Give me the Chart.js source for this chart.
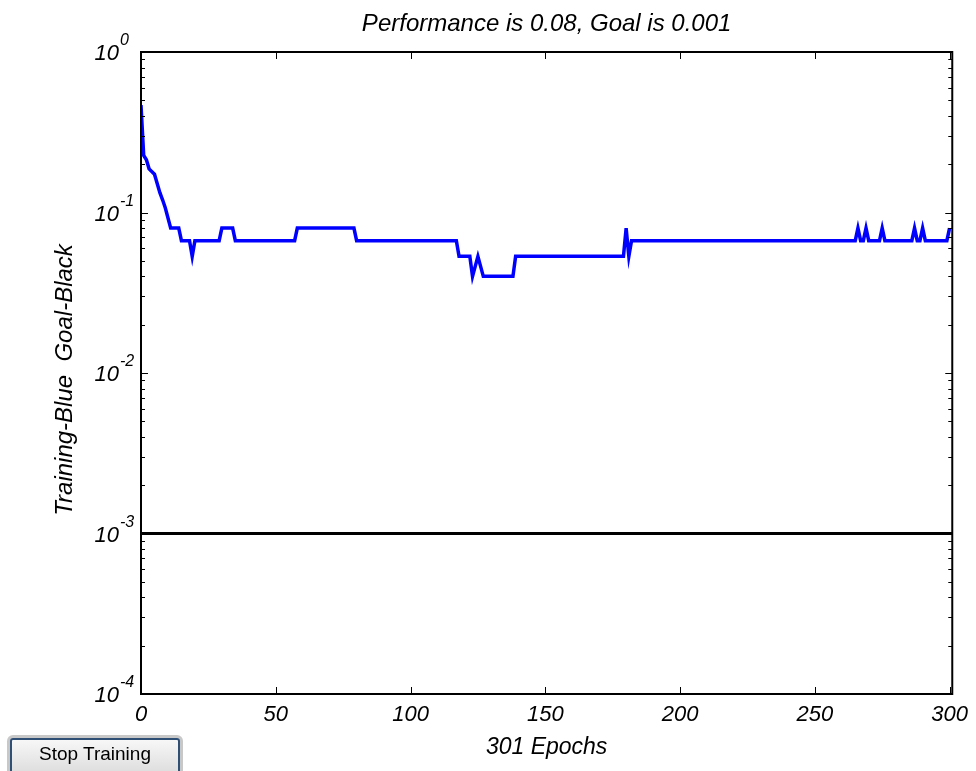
<!DOCTYPE html>
<html>
<head>
  <title>Training Performance</title>
  <script src="https://cdn.jsdelivr.net/npm/chart.js"></script>
  <style>
    body { margin: 0; background: #fff; }
    #wrap { position: relative; width: 976px; height: 771px; overflow: hidden; }
    #stopBtn {
      position: absolute; left: 10px; top: 738px; width: 170px; height: 36px;
      background: linear-gradient(#f7f7f7, #dedede);
      border: 2px solid #2f4f74; border-radius: 3px;
      box-shadow: 0 0 0 3px #c8c8c8;
      font: 19px "Liberation Sans", Arial, sans-serif; color: #000;
      padding: 0 0 4px 0;
    }
  </style>
</head>
<body>
  <div id="wrap">
    <canvas id="perfChart" width="976" height="771"></canvas>
    <button id="stopBtn">Stop Training</button>
  </div>

  <script>
    // training curve (breakpoints only)
    const epochs = [0, 1, 2, 3, 5, 7, 8, 9, 11, 14, 15, 18, 19, 20, 29, 30, 34, 35, 57, 58,
                    79, 80, 117, 118, 122, 123, 125, 127, 138, 139, 179, 180, 181, 182,
                    265, 266, 267, 268, 269, 270, 274, 275, 276, 286, 287, 288, 289, 290, 291, 299, 300];
    const perf = [0.467, 0.227, 0.213, 0.187, 0.173, 0.133, 0.12, 0.107, 0.08, 0.08, 0.0667, 0.0667, 0.0533, 0.0667, 0.0667, 0.08, 0.08, 0.0667, 0.0667, 0.08,
                  0.08, 0.0667, 0.0667, 0.0533, 0.0533, 0.04, 0.0533, 0.04, 0.04, 0.0533, 0.0533, 0.08, 0.0533, 0.0667,
                  0.0667, 0.08, 0.0667, 0.0667, 0.08, 0.0667, 0.0667, 0.08, 0.0667, 0.0667, 0.08, 0.0667, 0.0667, 0.08, 0.0667, 0.0667, 0.08];
    const goal = 0.001;
    const goalEpochs = [0, 301];
    const xTicks = [0, 50, 100, 150, 200, 250, 300];
    const yExponents = [0, -1, -2, -3, -4];

    const titleText = 'Performance is 0.08, Goal is 0.001';
    const yTitle = 'Training-Blue  Goal-Black';

    const FONT = '"Liberation Sans", Arial, sans-serif';

    // inward ticks, box, 10^n labels and titles, MATLAB style
    const axesBox = {
      id: 'axesBox',
      afterDraw(chart) {
        const { ctx, chartArea: a } = chart;
        const xs = chart.scales.x, ys = chart.scales.y;
        ctx.save();
        ctx.strokeStyle = '#000';
        ctx.lineWidth = 1;
        ctx.beginPath();
        xTicks.forEach(v => {
          const px = Math.round(xs.getPixelForValue(v)) + 0.5;
          ctx.moveTo(px, a.bottom); ctx.lineTo(px, a.bottom - 7);
          ctx.moveTo(px, a.top); ctx.lineTo(px, a.top + 7);
        });
        yExponents.forEach(e => {
          const py = Math.round(ys.getPixelForValue(Math.pow(10, e))) + 0.5;
          ctx.moveTo(a.left, py); ctx.lineTo(a.left + 7, py);
          ctx.moveTo(a.right, py); ctx.lineTo(a.right - 7, py);
          if (e > -4) {
            for (let m = 2; m <= 9; m++) {
              const pm = Math.round(ys.getPixelForValue(m * Math.pow(10, e - 1))) + 0.5;
              ctx.moveTo(a.left, pm); ctx.lineTo(a.left + 4, pm);
              ctx.moveTo(a.right, pm); ctx.lineTo(a.right - 4, pm);
            }
          }
        });
        ctx.stroke();

        ctx.lineWidth = 2;
        ctx.strokeRect(a.left, a.top, a.right - a.left, a.bottom - a.top);

        ctx.fillStyle = '#000';
        ctx.textBaseline = 'alphabetic';
        yExponents.forEach(e => {
          const py = ys.getPixelForValue(Math.pow(10, e));
          ctx.font = 'italic 22px ' + FONT;
          ctx.textAlign = 'right';
          ctx.fillText('10', 119, py + 8);
          ctx.font = 'italic 16px ' + FONT;
          ctx.textAlign = 'left';
          ctx.fillText(String(e), 120, py - 7);
        });

        // title, centred over the axes
        ctx.font = 'italic 24px ' + FONT;
        ctx.textAlign = 'center';
        ctx.fillText(titleText, (a.left + a.right) / 2, 31);

        // y axis title
        ctx.save();
        ctx.translate(72, 380);
        ctx.rotate(-Math.PI / 2);
        ctx.font = 'italic 24px ' + FONT;
        ctx.fillText(yTitle, 0, 0);
        ctx.restore();

        ctx.restore();
      }
    };

    new Chart(document.getElementById('perfChart'), {
      type: 'line',
      data: {
        datasets: [{
          label: 'Training',
          data: epochs.map((e, i) => ({ x: e, y: perf[i] })),
          borderColor: '#0000ff',
          borderWidth: 3.5,
          pointRadius: 0,
          tension: 0,
          fill: false
        }, {
          label: 'Goal',
          data: goalEpochs.map(e => ({ x: e, y: goal })),
          borderColor: '#000',
          borderWidth: 3,
          pointRadius: 0,
          fill: false
        }]
      },
      options: {
        responsive: false,
        animation: false,
        layout: { padding: { top: 52, right: 22, bottom: 0, left: 0 } },
        plugins: {
          legend: { display: false },
          tooltip: { enabled: false },
          title: { display: false }
        },
        scales: {
          x: {
            type: 'linear',
            min: 0,
            max: 301,
            afterBuildTicks: s => { s.ticks = xTicks.map(v => ({ value: v })); },
            afterFit: s => { s.height = 77; },
            grid: { display: false, drawTicks: false },
            border: { display: false },
            ticks: {
              color: '#000',
              padding: 8,
              maxRotation: 0,
              font: { family: FONT, size: 22, style: 'italic' }
            },
            title: {
              display: true,
              text: '301 Epochs',
              color: '#000',
              padding: { top: 0, bottom: 10 },
              font: { family: FONT, size: 23, style: 'italic' }
            }
          },
          y: {
            type: 'logarithmic',
            min: 1e-4,
            max: 1,
            afterFit: s => { s.width = 141; },
            grid: { display: false, drawTicks: false },
            border: { display: false },
            ticks: { display: false }
          }
        }
      },
      plugins: [axesBox]
    });
  </script>
</body>
</html>
